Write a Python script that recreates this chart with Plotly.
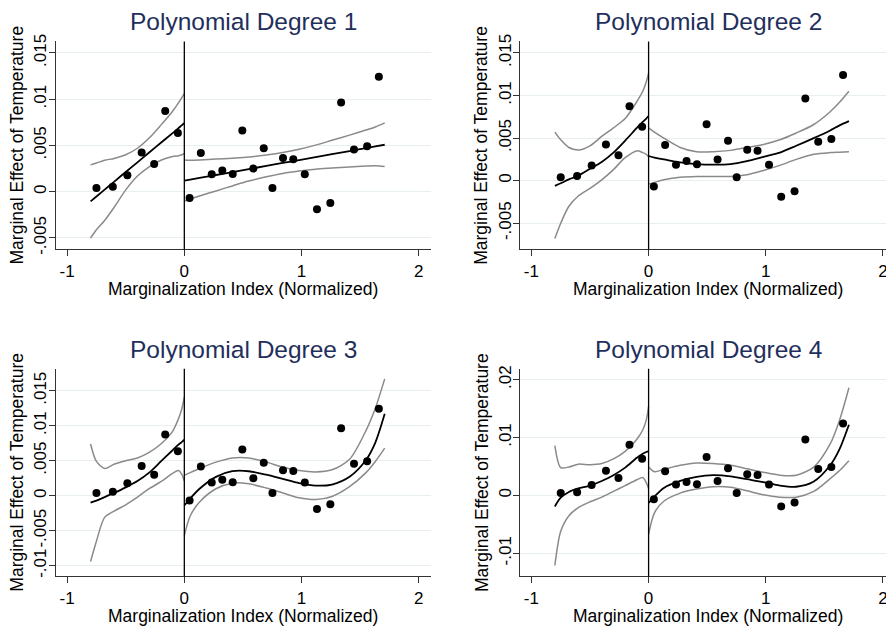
import plotly.graph_objects as go

# binned scatter (same in every panel)
bin_x = [-0.75, -0.61, -0.486, -0.364, -0.257, -0.163, -0.055,
         0.045, 0.141, 0.234, 0.324, 0.413, 0.495, 0.589, 0.678, 0.752, 0.842,
         0.93, 1.028, 1.132, 1.246, 1.338, 1.448, 1.56, 1.66]
bin_y = [0.0004, 0.00055, 0.00178, 0.00425, 0.003, 0.00874, 0.00635,
         -0.00068, 0.00418, 0.00188, 0.0023, 0.00193, 0.00662, 0.0025, 0.0047, 0.0004, 0.00364,
         0.00352, 0.00188, -0.0019, -0.00123, 0.00964, 0.00456, 0.00491, 0.01242]

left_x = [-0.8, -0.75, -0.68, -0.6, -0.5, -0.4, -0.3, -0.2, -0.1, -0.05, -0.02, 0]
right_x = [0, 0.05, 0.13, 0.27, 0.41, 0.55, 0.7, 0.84, 0.98, 1.12, 1.26, 1.41, 1.55, 1.63, 1.71]

# degree 1
d1_left_fit = [-0.00104, -0.00051, 0.00023, 0.00107, 0.00213, 0.00318, 0.00424, 0.00529, 0.00634, 0.00687, 0.0072, 0.0074]
d1_left_hi = [0.0029, 0.0031, 0.0034, 0.0036, 0.0040, 0.0047, 0.0058, 0.0072, 0.0087, 0.0096, 0.0102, 0.0106]
d1_left_lo = [-0.0050, -0.0041, -0.0031, -0.0017, 0.0002, 0.0017, 0.0027, 0.0034, 0.0038, 0.0039, 0.0040, 0.0041]
d1_right_fit = [0.0012, 0.00131, 0.00149, 0.00181, 0.00213, 0.00245, 0.00279, 0.00311, 0.00342, 0.00374, 0.00406, 0.0044, 0.00472, 0.0049, 0.00508]
d1_right_hi = [0.00343, 0.00341, 0.00344, 0.00353, 0.00363, 0.00375, 0.00397, 0.00424, 0.0046, 0.00504, 0.00556, 0.00612, 0.00667, 0.007, 0.00744]
d1_right_lo = [-0.00103, -0.00079, -0.00046, 0.00009, 0.00063, 0.00115, 0.00161, 0.00198, 0.00224, 0.00244, 0.00256, 0.00268, 0.00277, 0.0028, 0.00272]

# degree 2
d2_left_fit = [-0.0006, -0.0003, 0.00015, 0.0006, 0.0014, 0.0022, 0.0033, 0.0047, 0.0062, 0.0069, 0.0073, 0.0076]
d2_left_hi = [0.0057, 0.0048, 0.0039, 0.0036, 0.0041, 0.0052, 0.0062, 0.0073, 0.0093, 0.0105, 0.0116, 0.0126]
d2_left_lo = [-0.0068, -0.0050, -0.0030, -0.0018, -0.0009, 0.0001, 0.0013, 0.0027, 0.0035, 0.0033, 0.0031, 0.0028]
d2_right_fit = [0.0029, 0.0027, 0.0025, 0.00214, 0.00194, 0.00188, 0.00195, 0.0023, 0.0028, 0.0033, 0.0041, 0.0050, 0.0059, 0.0065, 0.0070]
d2_right_hi = [0.0062, 0.0057, 0.0050, 0.0039, 0.0034, 0.0034, 0.00356, 0.0039, 0.00425, 0.0048, 0.0056, 0.0066, 0.0081, 0.0092, 0.0105]
d2_right_lo = [-0.0004, -0.0002, 0.0001, 0.0004, 0.0005, 0.0005, 0.0005, 0.0007, 0.0012, 0.0018, 0.0025, 0.0031, 0.0033, 0.00335, 0.0034]

# degree 3
d3_left_fit = [-0.0010, -0.0007, -0.0002, 0.0004, 0.0012, 0.0021, 0.0033, 0.0049, 0.0065, 0.0073, 0.0077, 0.0080]
d3_left_hi = [0.0074, 0.0049, 0.0039, 0.0045, 0.0050, 0.0054, 0.0062, 0.0074, 0.0092, 0.0110, 0.0125, 0.0141]
d3_left_lo = [-0.0094, -0.0065, -0.0031, -0.0022, -0.0013, -0.0002, 0.0010, 0.0020, 0.0032, 0.0036, 0.0030, 0.0021]
d3_right_fit = [-0.0014, -0.0004, 0.0010, 0.0027, 0.0035, 0.0035, 0.0030, 0.0024, 0.0018, 0.00145, 0.0016, 0.0027, 0.0051, 0.0076, 0.0117]
d3_right_hi = [0.0029, 0.0033, 0.0039, 0.0048, 0.0054, 0.0054, 0.0048, 0.0041, 0.0036, 0.0034, 0.0037, 0.0052, 0.0093, 0.0125, 0.0167]
d3_right_lo = [-0.0057, -0.0029, -0.0009, 0.0010, 0.0018, 0.0017, 0.0011, 0.0004, -0.0003, -0.00055, -0.0001, 0.0013, 0.0033, 0.0049, 0.0068]

# degree 4
d4_left_fit = [-0.0019, -0.0004, 0.0006, 0.0012, 0.0017, 0.0025, 0.0035, 0.0048, 0.0065, 0.0072, 0.0075, 0.0076]
d4_left_hi = [0.0086, 0.0048, 0.0049, 0.0054, 0.0053, 0.0055, 0.0063, 0.0076, 0.0097, 0.0113, 0.0130, 0.0154]
d4_left_lo = [-0.0121, -0.0062, -0.0035, -0.0021, -0.0011, -0.0003, 0.0007, 0.0017, 0.0027, 0.0031, 0.0022, 0.0012]
d4_right_fit = [-0.0013, -0.0002, 0.0013, 0.0025, 0.0032, 0.0035, 0.0033, 0.0028, 0.0023, 0.0017, 0.0015, 0.0024, 0.0052, 0.0080, 0.0122]
d4_right_hi = [0.0049, 0.0041, 0.0045, 0.0052, 0.0056, 0.0055, 0.0052, 0.0046, 0.0040, 0.0035, 0.0035, 0.0049, 0.0089, 0.0130, 0.0186]
d4_right_lo = [-0.0067, -0.0030, -0.0010, 0.0004, 0.0011, 0.0015, 0.0014, 0.0008, 0.0001, -0.0003, -0.0003, 0.0007, 0.0029, 0.0043, 0.0060]

titles = ['Polynomial Degree 1', 'Polynomial Degree 2', 'Polynomial Degree 3', 'Polynomial Degree 4']
xlabel = 'Marginalization Index (Normalized)'
ylabel = 'Marginal Effect of Temperature'

ytick_vals = [
    [-0.005, 0, 0.005, 0.01, 0.015],
    [-0.005, 0, 0.005, 0.01, 0.015],
    [-0.01, -0.005, 0, 0.005, 0.01, 0.015],
    [-0.01, 0, 0.01, 0.02],
]
ytick_text = [
    ['-.005', '0', '.005', '.01', '.015'],
    ['-.005', '0', '.005', '.01', '.015'],
    ['-.01', '-.005', '0', '.005', '.01', '.015'],
    ['-.01', '0', '.01', '.02'],
]

curves = [
    (d1_left_fit, d1_left_hi, d1_left_lo, d1_right_fit, d1_right_hi, d1_right_lo),
    (d2_left_fit, d2_left_hi, d2_left_lo, d2_right_fit, d2_right_hi, d2_right_lo),
    (d3_left_fit, d3_left_hi, d3_left_lo, d3_right_fit, d3_right_hi, d3_right_lo),
    (d4_left_fit, d4_left_hi, d4_left_lo, d4_right_fit, d4_right_hi, d4_right_lo),
]

W, H = 894, 634
OFF = 8  # page body margin, positions below are screen pixels
# plot areas in pixels: (left, right, top, bottom)
boxes = [(56, 431, 35, 247), (520.3, 902, 35, 247),
         (56, 431, 368.7, 580.3), (520.3, 902, 368.7, 580.3)]
xranges = [[-1.095, 2.105], [-1.095, 2.163], [-1.095, 2.105], [-1.095, 2.163]]
yranges = [[-0.00624, 0.01624], [-0.00808, 0.01635], [-0.01154, 0.01813], [-0.0140, 0.02186]]


def fx(p):
    return (p - OFF) / W


def fy(p):
    return 1 - (p - OFF) / H


FONT = 'Liberation Sans, Arial, sans-serif'
GRAY = '#8a8a8a'
NAVY = '#1f2f5c'

fig = go.Figure()
annotations = []
shapes = []
layout = {}

for i in range(4):
    sfx = '' if i == 0 else str(i + 1)
    xa, ya = 'x' + sfx, 'y' + sfx
    lf, lh, ll, rf, rh, rl = curves[i]
    for xs, ys, col, w in [(left_x, lh, GRAY, 1.5), (left_x, ll, GRAY, 1.5),
                           (right_x, rh, GRAY, 1.5), (right_x, rl, GRAY, 1.5),
                           (left_x, lf, 'black', 1.8), (right_x, rf, 'black', 1.8)]:
        fig.add_trace(go.Scatter(x=xs, y=ys, mode='lines', xaxis=xa, yaxis=ya,
                                 line=dict(color=col, width=w, shape='spline', smoothing=0.8),
                                 showlegend=False, hoverinfo='skip'))
    fig.add_trace(go.Scatter(x=bin_x, y=bin_y, mode='markers', xaxis=xa, yaxis=ya,
                             marker=dict(color='black', size=8), showlegend=False))

    l, r, t, b = boxes[i]
    layout['xaxis' + sfx] = dict(
        domain=[fx(l), min(fx(r), 1.0)], range=xranges[i], anchor=ya,
        tickvals=[-1, 0, 1, 2], ticktext=['-1', '0', '1', '2'],
        showgrid=False, zeroline=False, showline=True, linecolor='#333', linewidth=1,
        ticks='outside', ticklen=6, tickcolor='#333', ticklabelstandoff=0,
        tickfont=dict(family=FONT, size=17, color='black'))
    layout['yaxis' + sfx] = dict(
        domain=[fy(b), fy(t)], range=yranges[i], anchor=xa,
        tickvals=ytick_vals[i], ticktext=ytick_text[i], tickangle=-90,
        showgrid=True, gridcolor='#e7eff2', gridwidth=1, zeroline=False,
        showline=True, linecolor='#333', linewidth=1,
        ticks='outside', ticklen=6, tickcolor='#333', ticklabelstandoff=-4,
        tickfont=dict(family=FONT, size=17, color='black'))

    # cutoff line at zero
    shapes.append(dict(type='line', xref=xa, yref=ya + ' domain', x0=0, x1=0, y0=0, y1=1,
                       line=dict(color='black', width=1.3)))

    cx = fx((l + min(r, 896)) / 2)
    annotations.append(dict(text=titles[i], x=cx, y=fy(t - 20), xref='paper', yref='paper',
                            showarrow=False, xanchor='center', yanchor='middle',
                            font=dict(family=FONT, size=24.5, color=NAVY)))
    annotations.append(dict(text=xlabel, x=cx, y=fy(b + 40), xref='paper', yref='paper',
                            showarrow=False, xanchor='center', yanchor='middle',
                            font=dict(family=FONT, size=17.5, color='black')))
    annotations.append(dict(text=ylabel, x=fx(l - 39), y=fy((t + b) / 2), xref='paper', yref='paper',
                            showarrow=False, xanchor='center', yanchor='middle', textangle=-90,
                            font=dict(family=FONT, size=17.5, color='black')))

fig.update_layout(
    width=W, height=H,
    margin=dict(l=0, r=0, t=0, b=0),
    paper_bgcolor='white', plot_bgcolor='white',
    annotations=annotations, shapes=shapes,
    **layout
)

fig.write_html("out.html")
